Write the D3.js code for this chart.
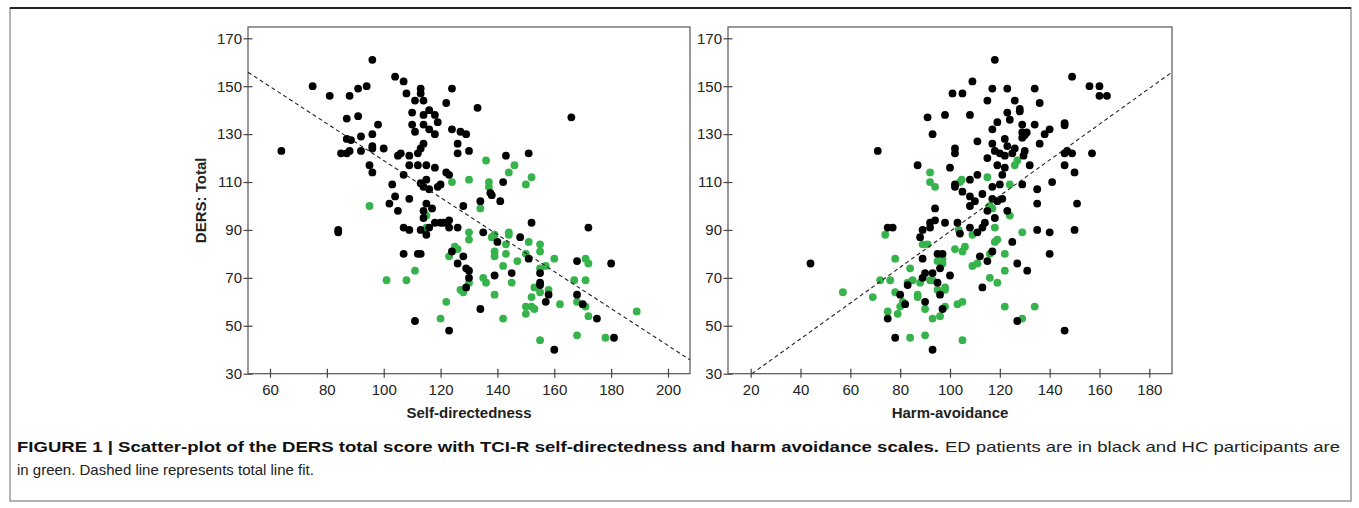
<!DOCTYPE html>
<html>
<head>
<meta charset="utf-8">
<script src="https://cdn.jsdelivr.net/npm/d3@7/dist/d3.min.js"></script>
<style>
  body { margin: 0; background: #fff; }
  text { font-family: Arial, "Liberation Sans", Helvetica, sans-serif; }
</style>
</head>
<body>
<svg id="board" width="1359" height="508"></svg>
<script>
// ---- data ----
var yTicks = [30, 50, 70, 90, 110, 130, 150, 170];
var sdTicks = [60, 80, 100, 120, 140, 160, 180, 200];
var haTicks = [20, 40, 60, 80, 100, 120, 140, 160, 180];

// self-directedness vs DERS total, ED patients (black)
var sdED = [
  [75,150],[81,146],[88,146],[91,149],[94,150],[96,161],[87,136.5],[91,137.5],[98,134],[96,130],[92,129],[87,128],[88.5,127.5],
  [104,154],[107,152],[108,147],[113,149],[113,147],[111,144],[114,144],[110,139],[116,140],[114,138],[118,138],[119,135],
  [110,134],[114,134],[111,131],[116,132],[118,130],[122,143],[124,149],[124,132],[127,131],[129,130],[133,141],[166,137],
  [64,123],[85,122],[87,122],[88,123],[92,123],[96,125],[96,124],[100,124],[95,117],[96,114],[103,109],[104,104],[102,101],
  [105,98],[105,121],[106,122],[107,113],[109,117],[109,121],[112,122],[112,117],[113,124],[114,126],[115,117],[118,116],
  [113,109.5],[114,108],[116,107],[115,111],[119,108],[120,109],[122,114],[123,113],[109,103],[115,101],[117,99],[114,98],
  [114,95],[107,91],[109,90],[113,90],[116,91],[118,93],[120,93],[121,93],[123,94],[123,91],[126,91],[115,88],[126,126],
  [126,122],[130,123],[128,100],[135,89],[134,102],[137.5,105.5],[138,104.5],[141,102],[142,110],[143,121],[151,122],
  [152,93],[140,85],[148,87],[172,91],[84,90],[84,89],
  [124,81],[128,79],[107,80],[112,80],[113,80],[126,76],[129,74],[130,73],[130,70],[129,66],[134,57],[139,71],[145,72],
  [151,78],[155,72],[155,68],[155,67],[158,63],[157,60],[168,77],[168,63],[170,59],[175,53],[180,76],[181,45],[160,40],
  [111,52],[123,48]
];
// self-directedness vs DERS total, HC participants (green)
var sdHC = [
  [95,100],[115,96],[115,91],[124,110],[130,111],[136,119],[137,110],[137,108],[134,99],[144,114],[146,117],[150,109],
  [152,112],[130,89],[130,86],[138,87],[139,88],[144,89],[144,88],[143,84],[151,85],[155,84],[155,81],[139,81],[139,79],
  [125,83],[126,82],[123,79],[143,80],[147,77],[150,80],[160,78],[171,78],[172,76],
  [101,69],[108,69],[111,73],[127,65],[128,64],[130,68],[120,53],[122,60],[135,70],[136,68],[139,63],[142,75],[145,68],
  [142,53],[155,74],[157,75],[153,66],[152,62],[155,64],[158,65],[150,58],[152,58],[153,57],[150,55],[162,59],[167,69],
  [171,69],[168,60],[171,58],[172,54],[168,46],[178,45],[155,44],[189,56]
];
// harm-avoidance vs DERS total, ED patients (black)
var haED = [
  [118,161],[129,134],[129,130.7],[130.8,130.7],[130,129.6],[129,128.5],[134,149],[136,143],[134,134],[138,130],[140,132],
  [146,134.6],[146,133.7],[149,154],[156,150],[160,150],[160,146],[163,146],
  [71,123],[75,91],[77,91],[87,117],[93,130],[91,137],[98,138],[101,147],[105,147],[109,152],[108,138],[117,149],[123,149],
  [115,144],[126,144],[123,139],[124,136],[119,135],[117,132],[128,140.5],[128,139.5],[111,127],[117,126],[122,128],
  [118,123],[120,122],[122,121],[123,125],[125,122],[126,124],[102,124],[102,122],[100,116],[115,120],[119,117],[122,116],
  [121,113],[108,111],[111,113],[102,109],[102,108],[105,106],[108,104],[110,102],[113,105],[117,108],[120,109],[108,100],
  [117,103],[119,102],[121,103],[94,99],[115,98],[123,98],[118,95],[92,93],[94,94],[98,93],[103,93],[92,91],[89,90],[88,87],
  [108,91],[111,89],[113,91],[114,93],[104,88.5],[125,85],
  [130,123],[129.5,121],[132,117],[136,126],[129,109],[135,107],[135,101],[141,110],[146,122],[147,123],[149,122],[146,117],
  [150,114],[157,122],[151,101],[135,90],[140,89],[150,90],[140,80],
  [44,76],[80,63],[82,59],[75,53],[83,67],[78,45],[89,70],[90,72],[93,72],[95,68],[96,74],[96,63],[100,71],[97,57],[90,60],
  [95,80],[97,80],[89,78],[93,40],[113,66],[112,79],[115,77],[117,81],[127,76],[127,52],[131,73],[146,48]
];
// harm-avoidance vs DERS total, HC participants (green)
var haHC = [
  [74,88],[92,114],[92,110],[94,108],[104.7,111],[104,110],[115,112],[127,119],[126,117],[124,109],[116,100],[117,99],
  [124,96],[118,91],[118,85],[119,86],[129,89],[89,84],[91,84],[103.5,90],[109,88],
  [57,64],[69,62],[72,69],[76,69],[78,64],[80,58],[75,56],[79,55],[81,60],[83,68],[85,69],[84,74],[84,45],[87,63],[87,62],
  [88,68],[92,69],[93,69],[95,65],[98,66],[98,65],[97,76],[95,77],[97,78],[90,57],[93,53],[96,54],[90,46],[98,58],[103,59],
  [105,60],[105,44],[102,82],[105,81],[106,83],[109,75],[111,76],[116,80],[116,70],[119,68],[122,80],[122,73],[122,58],
  [129,53],[134,58],[78,78]
];
// total line fit, end points at the plot edges
var sdFit = [[52.3,155.8],[207.7,35.8]];
var haFit = [[20.5,30],[189,155.8]];

var board = d3.select("#board");
var top_y = 27, bottom_y = 373.7;
var ED_COLOR = "#000000", HC_COLOR = "#36b34a";

// outer figure frame
board.append("rect")
  .attr("x",10).attr("y",8).attr("width",1341).attr("height",493)
  .attr("fill","none").attr("stroke","#9a9a9a").attr("stroke-width",1.5);
board.append("line")
  .attr("x1",10).attr("x2",1351).attr("y1",8).attr("y2",8)
  .attr("stroke","#222").attr("stroke-width",2);

function drawPanel(p)
{
  var g = board.append("g");
  var x = d3.scaleLinear().domain(p.xDom).range(p.xRange);
  var y = d3.scaleLinear().domain([30,170]).range([bottom_y,38.3]);

  var clipId = "clip" + p.id;
  g.append("clipPath").attr("id",clipId).append("rect")
    .attr("x",p.left).attr("y",top_y).attr("width",p.right-p.left).attr("height",bottom_y-top_y);

  g.append("rect")
    .attr("x",p.left).attr("y",top_y)
    .attr("width",p.right-p.left).attr("height",bottom_y-top_y)
    .attr("fill","none").attr("stroke","#555").attr("stroke-width",1.2);

  var ya = g.append("g")
    .attr("transform","translate("+p.left+",0)")
    .call(d3.axisLeft(y).tickValues(yTicks).tickSize(4.5).tickPadding(1.5));
  ya.select(".domain").remove();
  ya.selectAll("line").attr("x1",4.5).attr("stroke","#444").attr("stroke-width",1.2);
  ya.selectAll("text").attr("font-size","15px").attr("fill","#222")
    .attr("font-family","Arial, 'Liberation Sans', sans-serif");

  var xa = g.append("g")
    .attr("transform","translate(0,"+bottom_y+")")
    .call(d3.axisBottom(x).tickValues(p.xTicks).tickSize(4).tickPadding(7));
  xa.select(".domain").remove();
  xa.selectAll("line").attr("y1",-5).attr("stroke","#444").attr("stroke-width",1.2);
  xa.selectAll("text").attr("font-size","15px").attr("fill","#222")
    .attr("font-family","Arial, 'Liberation Sans', sans-serif");

  var inner = g.append("g").attr("clip-path","url(#"+clipId+")");

  inner.selectAll("circle.hc").data(p.hc).enter().append("circle")
    .attr("class","hc")
    .attr("cx",function(d){ return x(d[0]); })
    .attr("cy",function(d){ return y(d[1]); })
    .attr("r",3.9).attr("fill",HC_COLOR);

  inner.selectAll("circle.ed").data(p.ed).enter().append("circle")
    .attr("class","ed")
    .attr("cx",function(d){ return x(d[0]); })
    .attr("cy",function(d){ return y(d[1]); })
    .attr("r",3.9).attr("fill",ED_COLOR);

  inner.append("path")
    .datum(p.fit)
    .attr("d",d3.line().x(function(d){ return x(d[0]); }).y(function(d){ return y(d[1]); }))
    .attr("fill","none").attr("stroke","#222").attr("stroke-width",1.1)
    .attr("stroke-dasharray","4,3");

  g.append("text")
    .attr("x",(p.left+p.right)/2).attr("y",418)
    .attr("text-anchor","middle").attr("font-size","15px").attr("font-weight","bold").attr("fill","#222")
    .text(p.title);

  if(p.yTitle)
  {
    g.append("text")
      .attr("transform","translate(206,"+((top_y+bottom_y)/2)+") rotate(-90)")
      .attr("text-anchor","middle").attr("font-size","15px").attr("font-weight","bold").attr("fill","#222")
      .text(p.yTitle);
  }
}

drawPanel({ id:"sd", left:248, right:690, xDom:[60,200], xRange:[270,668], xTicks:sdTicks,
            ed:sdED, hc:sdHC, fit:sdFit, title:"Self-directedness", yTitle:"DERS: Total" });
drawPanel({ id:"ha", left:728, right:1172, xDom:[20,180], xRange:[750.7,1149.3], xTicks:haTicks,
            ed:haED, hc:haHC, fit:haFit, title:"Harm-avoidance" });

// caption
board.append("text")
  .attr("x",17).attr("y",452).attr("font-size","15px").attr("font-weight","bold").attr("fill","#111")
  .attr("textLength",922).attr("lengthAdjust","spacingAndGlyphs")
  .text("FIGURE 1 | Scatter-plot of the DERS total score with TCI-R self-directedness and harm avoidance scales.");
board.append("text")
  .attr("x",945).attr("y",452).attr("font-size","15px").attr("fill","#222")
  .attr("textLength",395).attr("lengthAdjust","spacingAndGlyphs")
  .text("ED patients are in black and HC participants are");
board.append("text")
  .attr("x",17).attr("y",475).attr("font-size","15px").attr("fill","#222")
  .text("in green. Dashed line represents total line fit.");
</script>
</body>
</html>
